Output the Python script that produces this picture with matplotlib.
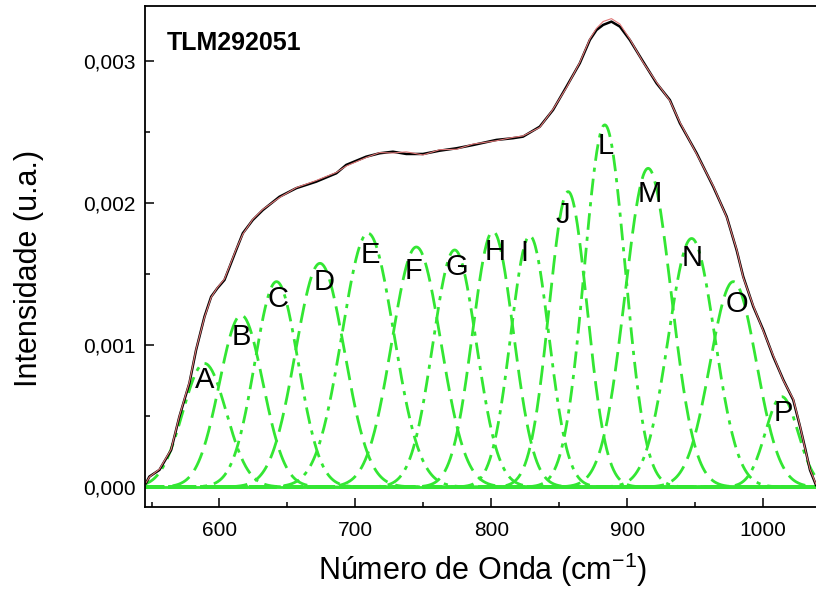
import matplotlib
matplotlib.use('Agg')
import matplotlib.pyplot as plt
import numpy as np

plt.rcParams['font.family'] = ['Liberation Sans', 'DejaVu Sans']
plt.rcParams['mathtext.default'] = 'regular'

# Measured spectrum (black)
wavenumber = [546.0, 548.4, 555.8, 564.4, 570.5, 577.9, 582.8, 589.0, 593.9, 598.5,
              603.7, 612.3, 617.2, 624.5, 631.9, 644.2, 656.5, 671.2, 686.0, 693.3,
              708.0, 717.9, 727.7, 737.5, 749.8, 762.0, 774.4, 786.6, 803.8, 816.0,
              823.4, 835.7, 845.5, 855.4, 865.2, 872.6, 877.5, 882.4, 888.5, 894.7,
              902.0, 911.8, 921.7, 931.5, 938.9, 951.2, 963.4, 973.3, 980.6, 985.5,
              992.9, 1000.2, 1007.6, 1015.0, 1022.3, 1027.3, 1031.0, 1034.6, 1039.0]
intensity = [0.000028, 0.000073, 0.00012, 0.00026, 0.000495, 0.000732, 0.000965, 0.0012, 0.00134, 0.0014,
             0.001458, 0.001669, 0.001787, 0.00188, 0.00195, 0.002044, 0.002104, 0.00215, 0.002209, 0.002268,
             0.002326, 0.00235, 0.002361, 0.002345, 0.002345, 0.002368, 0.002385, 0.002408, 0.002444, 0.002456,
             0.002467, 0.002537, 0.002655, 0.002819, 0.002984, 0.003148, 0.003218, 0.003254, 0.003277, 0.003242,
             0.003148, 0.002995, 0.002843, 0.002725, 0.002561, 0.00235, 0.002115, 0.001904, 0.001669, 0.001481,
             0.00127, 0.001106, 0.000918, 0.000754, 0.000613, 0.000425, 0.000275, 0.00012, 0.000014]
# Fit envelope (red), read along the same wavenumbers
fit_intensity = [0.00003, 0.00007, 0.000125, 0.000265, 0.0005, 0.00074, 0.00097, 0.001195, 0.001335, 0.001405,
                 0.001465, 0.001675, 0.00178, 0.001885, 0.001955, 0.002038, 0.002108, 0.002158, 0.002215, 0.00226,
                 0.00232, 0.002355, 0.002352, 0.00236, 0.002338, 0.002375, 0.002378, 0.002415, 0.002438, 0.002462,
                 0.002472, 0.002532, 0.00266, 0.002812, 0.00299, 0.003155, 0.00323, 0.003278, 0.003298, 0.00326,
                 0.003155, 0.00299, 0.00285, 0.00272, 0.002568, 0.002345, 0.00212, 0.0019, 0.001675, 0.001475,
                 0.001276, 0.0011, 0.000925, 0.00075, 0.00062, 0.00043, 0.00027, 0.000125, 0.00002]

# Fitted gaussian components
peak_names = ['A', 'B', 'C', 'D', 'E', 'F', 'G', 'H', 'I', 'J', 'L', 'M', 'N', 'O', 'P']
peak_centers = [589, 616, 642, 674, 709.3, 744.9, 773.1, 801.3, 828.4, 856.6, 883.6, 915.5, 947.5, 978.2, 1013.8]
peak_heights = [0.00087, 0.00121, 0.001446, 0.001575, 0.001787, 0.00169, 0.001669, 0.0018, 0.001768,
                0.00208, 0.00255, 0.002244, 0.00175, 0.001446, 0.000636]
peak_sigmas = [16, 16, 16, 18, 19, 18, 16, 15, 14, 14, 15, 17, 17, 17, 12]
# label positions (x, y)
label_x = [589, 616.2, 642.9, 676.7, 711, 743, 774.4, 802.6, 824.7, 852.9, 884.5, 916.8, 948, 980.6, 1015]
label_y = [0.000754, 0.001053, 0.001324, 0.00144, 0.001634, 0.001522, 0.001546, 0.001657, 0.001651,
           0.001915, 0.002403, 0.002063, 0.00161, 0.001289, 0.000521]

fig = plt.figure(figsize=(8.16, 5.91), dpi=100)
ax = fig.add_axes([145 / 816, 1 - 507 / 591, 672.3 / 816, 501 / 591])

xs = np.linspace(545, 1040, 800)
green = '#33e633'
for i in range(len(peak_names)):
    g = peak_heights[i] * np.exp(-(xs - peak_centers[i]) ** 2 / (2 * peak_sigmas[i] ** 2))
    if i % 2 == 0:
        ax.plot(xs, g, color=green, lw=2, dashes=(6, 2.5, 1.5, 2.5))
    else:
        ax.plot(xs, g, color=green, lw=2, dashes=(7, 3))
    ax.text(label_x[i], label_y[i], peak_names[i], fontsize=21, ha='center', va='center')

ax.axhline(0, color=green, lw=2)
ax.plot(wavenumber, intensity, color='black', lw=1.8)
ax.plot(wavenumber, fit_intensity, color='#e07878', lw=0.8)

ax.set_xlim(545.2, 1040)
ax.set_ylim(-0.000141, 0.003387)
ax.set_xticks([600, 700, 800, 900, 1000])
ax.set_xticks([550, 650, 750, 850, 950], minor=True)
ax.set_yticks([0, 0.001, 0.002, 0.003])
ax.set_yticklabels(['0,000', '0,001', '0,002', '0,003'])
ax.set_yticks([0.0005, 0.0015, 0.0025], minor=True)
ax.tick_params(which='major', direction='in', length=6.5, width=1.1, labelsize=15, pad=7)
ax.tick_params(which='minor', direction='in', length=3.5, width=1.1)
ax.tick_params(axis='x', which='major', pad=10)
for s in ax.spines.values():
    s.set_linewidth(1.3)

ax.set_xlabel('Número de Onda (cm$^{-1}$)', fontsize=22, va='baseline')
ax.xaxis.set_label_coords(483 / 816, 1 - 580 / 591, transform=fig.transFigure)
ax.set_ylabel('Intensidade (u.a.)', fontsize=22, va='baseline')
ax.yaxis.set_label_coords(37 / 816, 1 - 268 / 591, transform=fig.transFigure)

fig.text(167 / 816, 1 - 50 / 591, 'TLM292051', fontsize=18, fontweight='bold', va='baseline')

plt.savefig('out.png', dpi=100)
